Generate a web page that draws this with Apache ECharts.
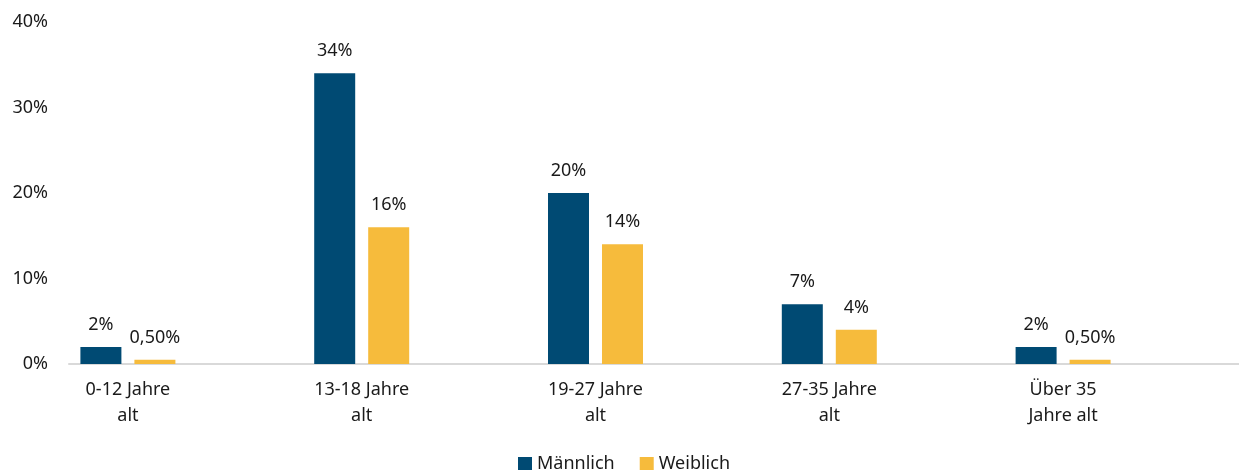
<!DOCTYPE html>
<html>
<head>
<meta charset="utf-8">
<script src="https://cdn.jsdelivr.net/npm/echarts@6/dist/echarts.min.js"></script>
<style>html,body{margin:0;padding:0;background:#fff}#c{width:1239px;height:470px}</style>
</head>
<body>
<div id="c"></div>
<script>
const categories = ["0-12 Jahre\nalt", "13-18 Jahre\nalt", "19-27 Jahre\nalt", "27-35 Jahre\nalt", "Über 35\nJahre alt"];
const maennlich = [2, 34, 20, 7, 2];
const weiblich = [0.5, 16, 14, 4, 0.5];
const yTicks = [0, 10, 20, 30, 40];

const FONT = "Noto Sans";
const TXT = "#1a1a1a";
function fmt(v) {
  return Number.isInteger(v) ? v + "%" : v.toFixed(2).replace(".", ",") + "%";
}
const chart = echarts.init(document.getElementById('c'), null, {renderer: 'canvas'});
const labelCfg = {show: true, position: 'top', distance: 13, color: TXT, fontFamily: FONT, fontSize: 18,
  formatter: p => fmt(p.value)};
chart.setOption({
  animation: false,
  textStyle: {fontFamily: FONT},
  legend: {
    top: 450, left: 513, icon: 'rect', itemWidth: 14, itemHeight: 14, itemGap: 25,
    textStyle: {fontFamily: FONT, fontSize: 18, color: TXT},
    data: ['Männlich', 'Weiblich']
  },
  grid: [
    {left: 11, right: 59, top: 22, bottom: 106},
    {left: 69, right: 0, top: 22, bottom: 106}
  ],
  xAxis: [
    {type: 'category', gridIndex: 0, data: categories,
      axisLine: {show: false}, axisTick: {show: false},
      axisLabel: {color: TXT, fontFamily: FONT, fontSize: 18, lineHeight: 26, margin: 13}},
    {type: 'category', gridIndex: 1, data: categories,
      axisLine: {show: true, lineStyle: {color: '#d9d9d9', width: 2}}, axisTick: {show: false},
      axisLabel: {show: false}}
  ],
  yAxis: [
    {type: 'value', gridIndex: 0, min: yTicks[0], max: yTicks[yTicks.length - 1], interval: 10, show: false},
    {type: 'value', gridIndex: 1, min: yTicks[0], max: yTicks[yTicks.length - 1], interval: 10,
      axisLine: {show: false}, axisTick: {show: false}, splitLine: {show: false},
      axisLabel: {color: TXT, fontFamily: FONT, fontSize: 18, margin: 21, formatter: '{value}%'}}
  ],
  series: [
    {name: 'Männlich', type: 'bar', xAxisIndex: 0, yAxisIndex: 0, data: maennlich,
      barWidth: 41, barGap: '31.7%', itemStyle: {color: '#004a73'}, label: labelCfg},
    {name: 'Weiblich', type: 'bar', xAxisIndex: 0, yAxisIndex: 0, data: weiblich,
      barWidth: 41, barGap: '31.7%', itemStyle: {color: '#f6bb3c'}, label: labelCfg}
  ]
});
</script>
</body>
</html>
